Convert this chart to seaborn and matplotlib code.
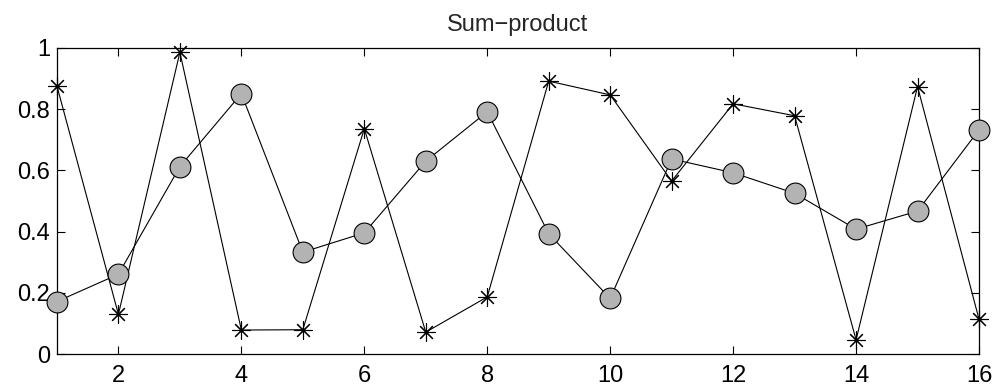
import matplotlib
matplotlib.use("Agg")
import matplotlib.pyplot as plt
import seaborn as sns
import pandas as pd
import numpy as np

x_vals = list(range(1, 17))
star_vals = [0.875, 0.130, 0.985, 0.079, 0.080, 0.736, 0.072, 0.187,
             0.891, 0.846, 0.565, 0.817, 0.778, 0.047, 0.873, 0.114]
circle_vals = [0.172, 0.261, 0.612, 0.850, 0.333, 0.396, 0.630, 0.791,
               0.393, 0.182, 0.637, 0.592, 0.525, 0.408, 0.467, 0.732]
x_ticks = [2, 4, 6, 8, 10, 12, 14, 16]
y_ticks = [0, 0.2, 0.4, 0.6, 0.8, 1]
y_tick_labels = ["0", "0.2", "0.4", "0.6", "0.8", "1"]
title = "Sum\u2212product"

sns.set_style("ticks")
plt.rcParams['font.family'] = ['Liberation Sans', 'DejaVu Sans']

df_star = pd.DataFrame({"x": x_vals, "y": star_vals})
df_circ = pd.DataFrame({"x": x_vals, "y": circle_vals})

fig = plt.figure(figsize=(9.99, 3.91), dpi=100)
ax = fig.add_axes([0.057, 0.094, 0.923, 0.784])

sns.lineplot(data=df_star, x="x", y="y", ax=ax, color="black", linewidth=0.8,
             marker=(8, 2, 0), markersize=13, markeredgewidth=0.8,
             markeredgecolor="black", zorder=2, clip_on=False)
sns.lineplot(data=df_star, x="x", y="y", ax=ax, color="black", linewidth=0,
             marker="o", markersize=2.5, markeredgewidth=0,
             markerfacecolor="black", zorder=2, clip_on=False)
sns.lineplot(data=df_circ, x="x", y="y", ax=ax, color="black", linewidth=0.8,
             marker="o", markersize=15, markerfacecolor="#b3b3b3",
             markeredgecolor="black", markeredgewidth=0.8, zorder=3,
             clip_on=False)

ax.set_xlim(1, 16)
ax.set_ylim(0, 1)
ax.set_xticks(x_ticks)
ax.set_yticks(y_ticks)
ax.set_yticklabels(y_tick_labels)
ax.set_xlabel("")
ax.set_ylabel("")
ax.set_title(title, fontsize=17, pad=12)
ax.tick_params(direction="in", top=True, right=True, length=6, width=0.8,
               labelsize=17, colors="black")
ax.tick_params(axis="x", pad=8)
ax.tick_params(axis="y", pad=5)
for s in ax.spines.values():
    s.set_visible(True)
    s.set_linewidth(0.9)
    s.set_color("black")
    s.set_zorder(1)

fig.savefig("out.png", dpi=100)
